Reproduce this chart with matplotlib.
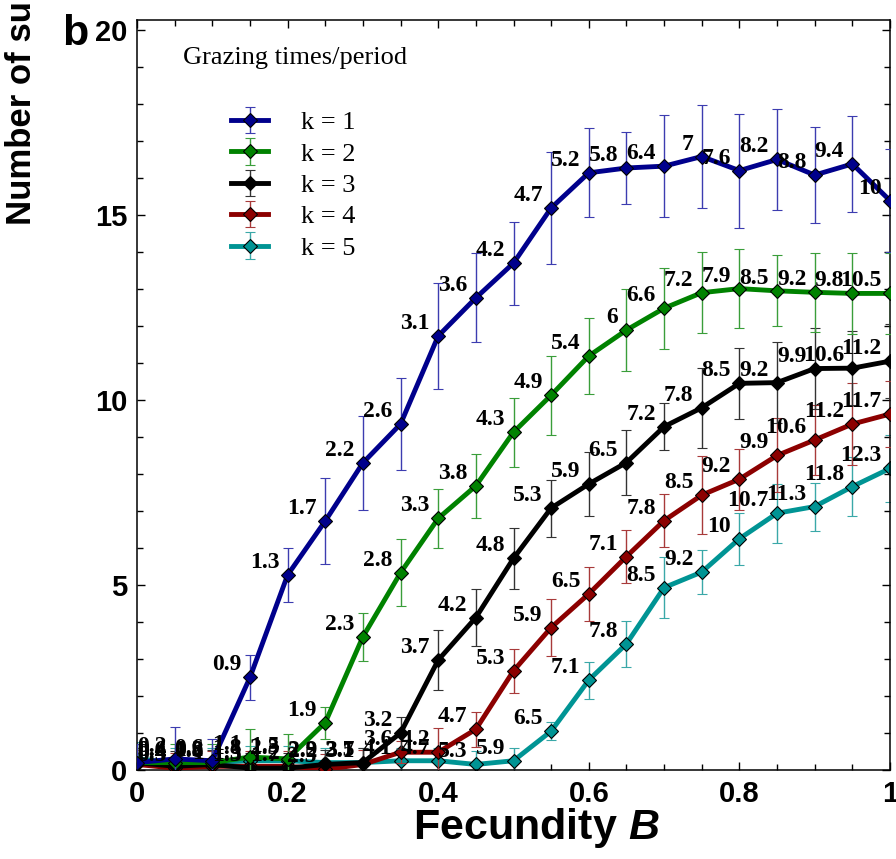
import matplotlib
matplotlib.use("Agg")
import matplotlib.pyplot as plt
import numpy as np

plt.rcParams.update({
    "font.family": "Liberation Sans",
    "mathtext.fontset": "custom",
    "mathtext.it": "Liberation Sans:italic:bold",
    "mathtext.rm": "Liberation Sans:bold",
})

# ── data ─────────────────────────────────────────────────────────────────────
fecundity = [0.0, 0.05, 0.1, 0.15, 0.2, 0.25, 0.3, 0.35, 0.4, 0.45, 0.5,
             0.55, 0.6, 0.65, 0.7, 0.75, 0.8, 0.85, 0.9, 0.95, 1.0]

k1_mean = [0.2, 0.3, 0.25, 2.5, 5.27, 6.73, 8.3, 9.35, 11.73, 12.76, 13.7,
           15.19, 16.14, 16.27, 16.32, 16.58, 16.2, 16.5, 16.08, 16.38, 15.39]
k1_err = [0.5, 0.85, 0.6, 0.6, 0.73, 1.17, 1.26, 1.25, 1.42, 1.2, 1.12,
          1.52, 1.2, 0.98, 1.38, 1.4, 1.54, 1.37, 1.29, 1.3, 1.4]
k1_text = ["0", "0.2", "0.6", "0.9", "1.3", "1.7", "2.2", "2.6", "3.1", "3.6",
           "4.2", "4.7", "5.2", "5.8", "6.4", "7", "7.6", "8.2", "8.8", "9.4", "10"]

k2_mean = [0.2, 0.2, 0.2, 0.35, 0.3, 1.28, 3.6, 5.33, 6.8, 7.68, 9.13,
           10.13, 11.19, 11.89, 12.48, 12.9, 13.01, 12.95, 12.91, 12.88, 12.88]
k2_err = [0.5, 0.5, 0.5, 0.75, 0.67, 0.43, 0.65, 0.9, 0.8, 0.87, 0.93,
          1.07, 1.02, 1.1, 1.1, 1.1, 1.06, 0.96, 1.07, 1.1, 1.1]
k2_text = ["0", "0.4", "0.8", "1.1", "1.5", "1.9", "2.3", "2.8", "3.3", "3.8",
           "4.3", "4.9", "5.4", "6", "6.6", "7.2", "7.9", "8.5", "9.2", "9.8", "10.5"]

k3_mean = [0.2, 0.1, 0.15, 0.05, 0.05, 0.15, 0.2, 1.0, 2.97, 4.12, 5.72,
           7.08, 7.73, 8.31, 9.28, 9.79, 10.45, 10.47, 10.85, 10.86, 11.05]
k3_err = [0.4, 0.4, 0.4, 0.4, 0.4, 0.4, 0.4, 0.42, 0.81, 0.76, 0.83,
          0.77, 0.86, 0.89, 0.63, 1.08, 0.96, 1.1, 1.1, 1.0, 1.0]
k3_text = ["0", "0.4", "0.8", "1.3", "1.7", "2.2", "2.7", "3.2", "3.7", "4.2",
           "4.8", "5.3", "5.9", "6.5", "7.2", "7.8", "8.5", "9.2", "9.9", "10.6", "11.2"]

k4_mean = [0.15, 0.05, 0.1, 0.1, 0.1, 0.02, 0.15, 0.48, 0.48, 1.1, 2.68,
           3.85, 4.76, 5.77, 6.74, 7.43, 7.86, 8.5, 8.92, 9.35, 9.62]
k4_err = [0.4, 0.4, 0.4, 0.4, 0.4, 0.4, 0.4, 0.3, 0.65, 0.47, 0.6,
          0.78, 0.72, 0.72, 0.72, 1.05, 0.82, 1.0, 0.95, 1.1, 0.9]
k4_text = ["0", "0.5", "1", "1.5", "2", "2.5", "3.1", "3.6", "4.2", "4.7",
           "5.3", "5.9", "6.5", "7.1", "7.8", "8.5", "9.2", "9.9", "10.6", "11.2", "11.7"]

k5_mean = [0.3, 0.2, 0.2, 0.25, 0.25, 0.2, 0.2, 0.25, 0.25, 0.15, 0.25,
           1.05, 2.43, 3.41, 4.93, 5.35, 6.25, 6.94, 7.12, 7.66, 8.15]
k5_err = [0.45, 0.4, 0.4, 0.4, 0.4, 0.4, 0.4, 0.35, 0.35, 0.35, 0.35,
          0.25, 0.5, 0.62, 0.82, 0.6, 0.7, 0.8, 0.65, 0.8, 0.9]
k5_text = ["0", "0.6", "1.2", "1.8", "2.3", "2.9", "3.5", "4.1", "4.7", "5.3",
           "5.9", "6.5", "7.1", "7.8", "8.5", "9.2", "10", "10.7", "11.3", "11.8", "12.3"]

series = [
    ("k = 1", k1_mean, k1_err, k1_text, "#00008c", "#3c3cb0"),
    ("k = 2", k2_mean, k2_err, k2_text, "#008200", "#3a9e3a"),
    ("k = 3", k3_mean, k3_err, k3_text, "#000000", "#333333"),
    ("k = 4", k4_mean, k4_err, k4_text, "#8c0000", "#a83a3a"),
    ("k = 5", k5_mean, k5_err, k5_text, "#009494", "#3aa8a8"),
]

fig = plt.figure(figsize=(8.96, 8.59), dpi=100)
ax = fig.add_axes([137 / 896, 1 - 770 / 859, 753 / 896, 750 / 859])

handles = {}
for z, (lab, mean, err, txt, col, ecol) in enumerate(reversed(series)):
    h = ax.errorbar(fecundity, mean, yerr=err, fmt="-D", color=col, lw=3.5,
                    ms=7.5, mfc=col, mec="black", mew=0.8,
                    ecolor=ecol, elinewidth=1.0, capsize=3.5, capthick=1.0,
                    label=lab, zorder=2 + z)
    handles[lab] = h
    for x, y, t in zip(fecundity, mean, txt):
        ax.annotate(t, (x, y), xytext=(-6, 9), textcoords="offset points",
                    ha="right", va="center", fontsize=17, fontweight="bold",
                    family="Liberation Serif", color="black", zorder=10,
                    clip_on=True)

ax.set_xlim(0, 1)
ax.set_ylim(0, 20.27)
ax.set_xticks([0, 0.2, 0.4, 0.6, 0.8, 1.0])
ax.set_xticklabels(["0", "0.2", "0.4", "0.6", "0.8", "1"])
ax.set_yticks([0, 5, 10, 15, 20])
ax.set_xticks(np.arange(0, 1.001, 0.05), minor=True)
ax.set_yticks(np.arange(0, 20.5, 1), minor=True)
ax.tick_params(which="both", direction="in", top=True, right=True,
               width=1.0)
ax.tick_params(which="major", length=5.5, labelsize=21, pad=7)
ax.tick_params(which="minor", length=4)
for lbl in ax.get_xticklabels() + ax.get_yticklabels():
    lbl.set_fontweight("bold")
for sp in ax.spines.values():
    sp.set_linewidth(1.1)

# legend with a separate title line
ax.text(0.061, 0.949, "Grazing times/period", transform=ax.transAxes,
        ha="left", va="center", fontsize=19, family="Liberation Serif")
order = ["k = 1", "k = 2", "k = 3", "k = 4", "k = 5"]
ax.legend([handles[o] for o in order], order, loc="upper left",
          bbox_to_anchor=(0.125, 0.879), frameon=False, borderpad=0,
          borderaxespad=0, handlelength=1.4, handletextpad=1.25,
          labelspacing=0.3, prop={"family": "Liberation Serif", "size": 19})

fig.text(536 / 896, 1 - 828 / 859, r"Fecundity $B$", ha="center",
         va="center", fontsize=31, fontweight="bold")
fig.text(22 / 896, 1 - 225 / 859, "Number of surviving species",
         rotation=90, ha="center", va="bottom", fontsize=25,
         fontweight="bold")
fig.text(62 / 896, 1 - 45 / 859, "b", ha="left", va="baseline",
         fontsize=31, fontweight="bold")

fig.savefig("out.png", dpi=100)
